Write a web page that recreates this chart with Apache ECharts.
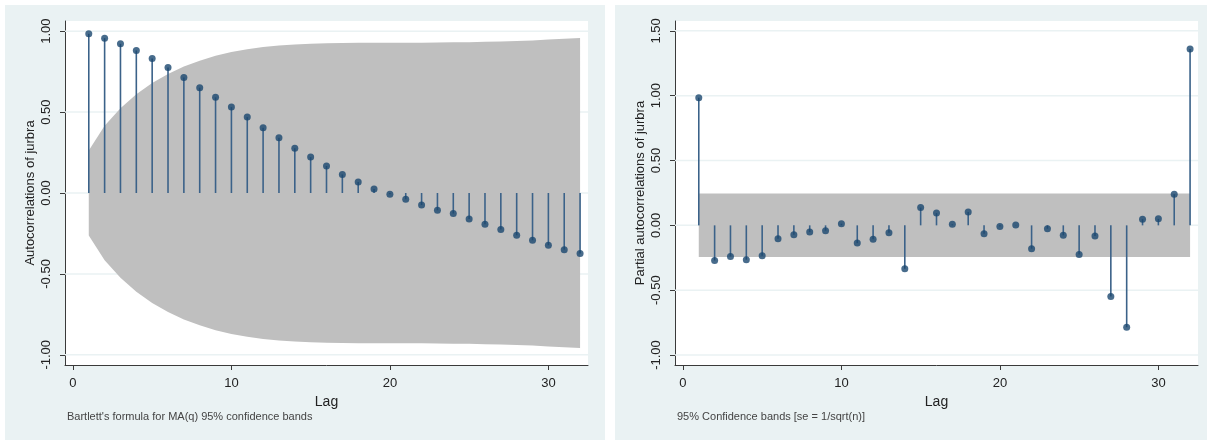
<!DOCTYPE html>
<html>
<head>
<meta charset="utf-8">
<script src="https://cdn.jsdelivr.net/npm/echarts@6/dist/echarts.min.js"></script>
<style>
html,body{margin:0;padding:0;background:#fff;}
#chart{width:1207px;height:440px;}
</style>
</head>
<body>
<div id="chart"></div>
<script>
// ---- data ----
const lags = [1,2,3,4,5,6,7,8,9,10,11,12,13,14,15,16,17,18,19,20,21,22,23,24,25,26,27,28,29,30,31,32];
const acf = [0.984,0.957,0.922,0.881,0.831,0.776,0.714,0.651,0.591,0.531,0.469,0.404,0.342,0.277,0.222,0.167,0.115,0.068,0.025,-0.008,-0.039,-0.074,-0.107,-0.127,-0.160,-0.193,-0.226,-0.261,-0.292,-0.323,-0.350,-0.374];
const acfBand = [0.262,0.415,0.524,0.610,0.680,0.736,0.782,0.818,0.848,0.871,0.889,0.902,0.911,0.918,0.922,0.925,0.927,0.928,0.929,0.929,0.929,0.929,0.930,0.931,0.932,0.934,0.936,0.939,0.943,0.948,0.953,0.958];
const pacf = [0.985,-0.271,-0.240,-0.265,-0.235,-0.103,-0.072,-0.052,-0.041,0.013,-0.137,-0.108,-0.057,-0.335,0.137,0.095,0.008,0.103,-0.064,-0.008,0.002,-0.180,-0.026,-0.077,-0.224,-0.083,-0.549,-0.786,0.048,0.050,0.240,1.361];
const pacfBandLags = [1, 32];
const pacfBand = [0.245, 0.245];
const xTicks = [0, 10, 20, 30];
const yTicksLeft = [-1, -0.5, 0, 0.5, 1];
const yTicksRight = [-1, -0.5, 0, 0.5, 1, 1.5];

const NAVY = '#1a476f';
const STEM = '#3b6289';
const BAND = '#bfbfbf';
const PANEL = '#eaf2f3';
const GRIDC = '#eaf2f3';
const AXIS = '#3a3a3a';
const TXT = '#222';
const FONT = '"Liberation Sans", Arial, sans-serif';

const chart = echarts.init(document.getElementById('chart'), null, {renderer: 'canvas'});

function xAxisDef(gi) {
  return {
    type: 'value', gridIndex: gi, min: -0.5, max: 32.5,
    axisLine: {show: true, onZero: false, lineStyle: {color: AXIS, width: 1}},
    axisTick: {show: true, customValues: xTicks, length: 5, lineStyle: {color: AXIS}},
    axisLabel: {customValues: xTicks, color: TXT, fontSize: 13, fontFamily: FONT, margin: 12},
    splitLine: {show: false},
    name: 'Lag', nameLocation: 'middle', nameGap: 24,
    nameTextStyle: {color: TXT, fontSize: 14, fontFamily: FONT}
  };
}
function yAxisDef(gi, min, max, ticks, name) {
  return {
    type: 'value', gridIndex: gi, min: min, max: max,
    axisLine: {show: true, onZero: false, lineStyle: {color: AXIS, width: 1}},
    axisTick: {show: true, customValues: ticks, length: 5, lineStyle: {color: AXIS}},
    axisLabel: {customValues: ticks, rotate: 90, color: TXT, fontSize: 13, fontFamily: FONT, margin: 12,
      formatter: v => v.toFixed(2)},
    splitLine: {show: false},
    name: name, nameLocation: 'middle', nameGap: 28,
    nameTextStyle: {color: TXT, fontSize: 13, fontFamily: FONT}
  };
}

function gridLineSeries(gi, ticks) {
  return {
    type: 'custom', xAxisIndex: gi, yAxisIndex: gi, z: 1, silent: true,
    data: ticks.map(v => [v]),
    renderItem: function (params, api) {
      const v = api.value(0);
      const p1 = api.coord([-0.5, v]);
      const p2 = api.coord([32.5, v]);
      return {type: 'line', shape: {x1: p1[0], y1: p1[1], x2: p2[0], y2: p2[1]},
        style: {stroke: GRIDC, lineWidth: 1.5}};
    }
  };
}
function bandSeries(gi, xs, lo, hi) {
  const rows = xs.map((x, i) => [x, lo[i], hi[i]]);
  return {
    type: 'custom', xAxisIndex: gi, yAxisIndex: gi, z: 2, silent: true,
    data: rows,
    renderItem: function (params, api) {
      if (params.dataIndex !== 0) return null;
      const pts = [];
      for (let i = 0; i < rows.length; i++) pts.push(api.coord([rows[i][0], rows[i][2]]));
      for (let i = rows.length - 1; i >= 0; i--) pts.push(api.coord([rows[i][0], rows[i][1]]));
      return {type: 'polygon', shape: {points: pts}, style: {fill: BAND}};
    }
  };
}
function stemSeries(gi, xs, ys) {
  return {
    type: 'custom', xAxisIndex: gi, yAxisIndex: gi, z: 3, silent: true,
    data: xs.map((x, i) => [x, ys[i]]),
    renderItem: function (params, api) {
      const p0 = api.coord([api.value(0), 0]);
      const p1 = api.coord([api.value(0), api.value(1)]);
      return {type: 'line', shape: {x1: p0[0], y1: p0[1], x2: p1[0], y2: p1[1]},
        style: {stroke: STEM, lineWidth: 1.6}};
    }
  };
}
function dotSeries(gi, xs, ys) {
  return {
    type: 'scatter', xAxisIndex: gi, yAxisIndex: gi, z: 4, silent: true,
    symbol: 'circle', symbolSize: 7,
    itemStyle: {color: NAVY},
    data: xs.map((x, i) => [x, ys[i]])
  };
}

const option = {
  backgroundColor: '#ffffff',
  animation: false,
  graphic: [
    {type: 'rect', shape: {x: 5, y: 5, width: 600, height: 435}, style: {fill: PANEL}, z: -10, silent: true},
    {type: 'rect', shape: {x: 615, y: 5, width: 592, height: 435}, style: {fill: PANEL}, z: -10, silent: true},
    {type: 'text', left: 67, top: 411, style: {text: "Bartlett's formula for MA(q) 95% confidence bands", fill: '#444', font: '11px ' + FONT}, silent: true},
    {type: 'text', left: 677, top: 411, style: {text: '95% Confidence bands [se = 1/sqrt(n)]', fill: '#444', font: '11px ' + FONT}, silent: true}
  ],
  grid: [
    {left: 65, top: 21, width: 523, height: 344, show: true, backgroundColor: '#ffffff', borderWidth: 0},
    {left: 675, top: 21, width: 523, height: 344, show: true, backgroundColor: '#ffffff', borderWidth: 0}
  ],
  xAxis: [xAxisDef(0), xAxisDef(1)],
  yAxis: [
    yAxisDef(0, -1.063, 1.063, yTicksLeft, 'Autocorrelations of jurbra'),
    yAxisDef(1, -1.077, 1.576, yTicksRight, 'Partial autocorrelations of jurbra')
  ],
  series: [
    gridLineSeries(0, yTicksLeft),
    bandSeries(0, lags, acfBand.map(v => -v), acfBand),
    stemSeries(0, lags, acf),
    dotSeries(0, lags, acf),
    gridLineSeries(1, yTicksRight),
    bandSeries(1, pacfBandLags, pacfBand.map(v => -v), pacfBand),
    stemSeries(1, lags, pacf),
    dotSeries(1, lags, pacf)
  ]
};
chart.setOption(option);
</script>
</body>
</html>
